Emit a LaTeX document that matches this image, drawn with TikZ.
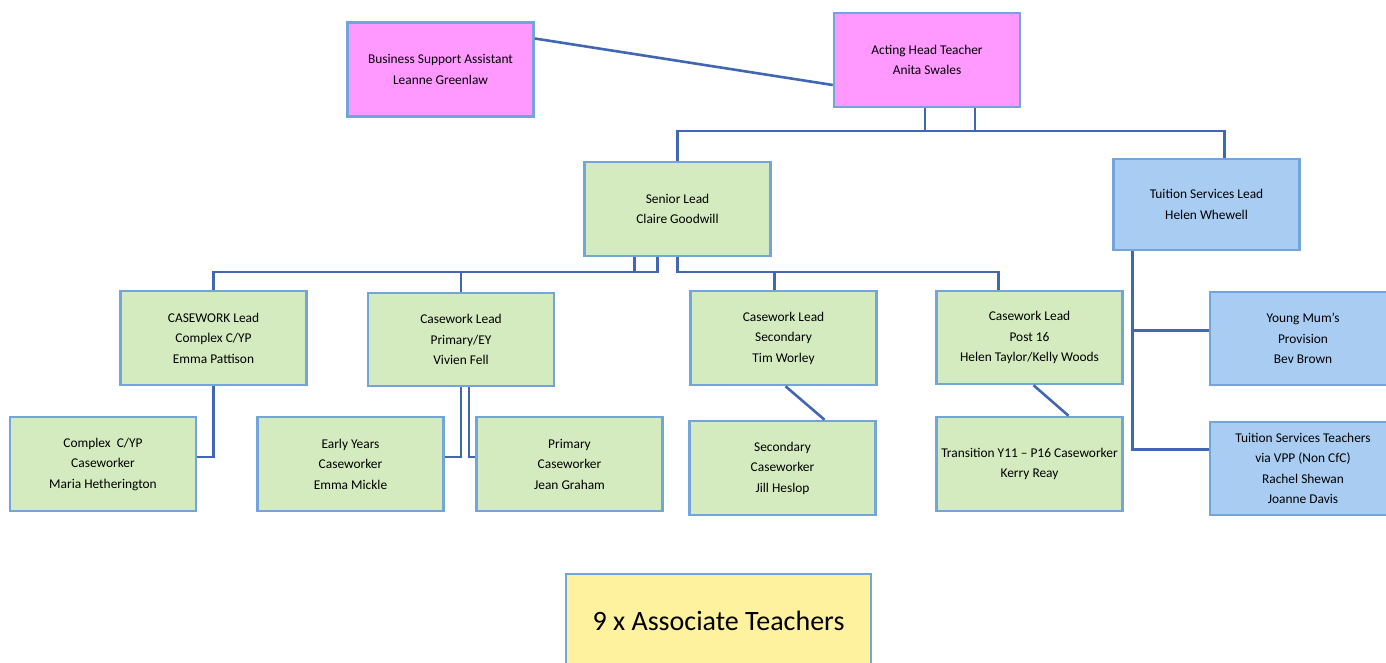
\documentclass[tikz,border=0pt]{standalone}
\usepackage{fontspec}
\setmainfont{Carlito}
\usetikzlibrary{shadows}

\definecolor{rosa}{RGB}{255,153,255}
\definecolor{hellgruen}{RGB}{212,235,192}
\definecolor{hellblau}{RGB}{169,205,242}
\definecolor{gelb}{RGB}{255,242,159}
\definecolor{rahmen}{RGB}{115,165,220}
\definecolor{linie}{RGB}{66,103,178}

\tikzset{
  box/.style={draw=rahmen, line width=2.5pt, minimum width=186pt, minimum height=94pt,
    inner sep=0pt, align=center, font=\fontsize{13.4}{20.5}\selectfont,
    drop shadow={shadow xshift=1.3pt, shadow yshift=-1.3pt, fill=black!75, opacity=1}},
  pinkbox/.style={box, fill=rosa},
  greenbox/.style={box, fill=hellgruen},
  bluebox/.style={box, fill=hellblau},
  conn/.style={draw=linie, line width=2.6pt},
}

\begin{document}
\begin{tikzpicture}[x=1pt, y=-1pt]
    \useasboundingbox (0,0) rectangle (1386,663);

    % Leitung
    \node[pinkbox] (bsa) at (440.5,69.5) {Business Support Assistant\\Leanne Greenlaw};
    \node[pinkbox] (aht) at (927,60) {Acting Head Teacher\\Anita Swales};

    % zweite Ebene
    \node[greenbox] (sl) at (677.5,209) {Senior Lead\\Claire Goodwill};
    \node[bluebox, minimum height=91pt] (tl) at (1206.5,204.5) {Tuition Services Lead\\Helen Whewell};

    % Casework Leads
    \node[greenbox] (cw1) at (213.5,338) {CASEWORK Lead\\Complex C/YP\\Emma Pattison};
    \node[greenbox, minimum height=93pt] (cw2) at (461,339.5) {Casework Lead\\Primary/EY\\Vivien Fell};
    \node[greenbox] (cw3) at (783.5,338) {Casework Lead\\Secondary\\Tim Worley};
    \node[greenbox, minimum height=93pt] (cw4) at (1029.5,337.5) {Casework Lead\\Post 16\\Helen Taylor/Kelly Woods};
    \node[bluebox, minimum height=93pt] (ym) at (1303,338.5) {Young Mum’s\\Provision\\Bev Brown};

    % Caseworker
    \node[greenbox] (cx) at (103,464) {Complex\ \ C/YP\\Caseworker\\Maria Hetherington};
    \node[greenbox] (ey) at (350.5,464) {Early Years\\Caseworker\\Emma Mickle};
    \node[greenbox] (pr) at (569.5,464) {Primary\\Caseworker\\Jean Graham};
    \node[greenbox] (sc) at (782.5,468) {Secondary\\Caseworker\\Jill Heslop};
    \node[greenbox] (tr) at (1029.5,464) {Transition Y11 – P16 Caseworker\\Kerry Reay};
    \node[bluebox, minimum height=93pt] (tt) at (1303,468.5) {Tuition Services Teachers\\via VPP (Non CfC)\\Rachel Shewan\\Joanne Davis};

    % Associate Teachers
    \node[box, fill=gelb, minimum width=305pt, font=\fontsize{28}{34}\selectfont] (at9) at (718.5,621) {9 x Associate Teachers};

    % Hilfslinien
    \coordinate (hbus) at (0,131);
    \coordinate (sbus) at (0,272);

    % Verbindungen oben
    \draw[conn] ([yshift=31pt]bsa.east) -- ([yshift=-25pt]aht.west);
    \draw[conn] (sl.north) -- (sl.north |- hbus) -- ([xshift=18pt]tl.north |- hbus) -- ([xshift=18pt]tl.north);
    \draw[conn] ([xshift=-2pt]aht.south) -- ([xshift=-2pt]aht.south |- hbus);
    \draw[conn] ([xshift=48pt]aht.south) -- ([xshift=48pt]aht.south |- hbus);

    % Senior Lead -> Casework Leads
    \draw[conn] (cw1.north) -- (cw1.north |- sbus) -- ([xshift=-20pt]sl.south |- sbus) -- ([xshift=-20pt]sl.south);
    \draw[conn] ([xshift=-43pt]sl.south) -- ([xshift=-43pt]sl.south |- sbus);
    \draw[conn] (cw2.north) -- (cw2.north |- sbus);
    \draw[conn] (sl.south) -- (sl.south |- sbus) -- ([xshift=-31pt]cw4.north |- sbus) -- ([xshift=-31pt]cw4.north);
    \draw[conn] ([xshift=-9pt]cw3.north) -- ([xshift=-9pt]cw3.north |- sbus);

    % Tuition Services
    \draw[conn] ([xshift=-74pt]tl.south) |- ([yshift=19pt]tt.west);
    \draw[conn] ([xshift=-74pt]tl.south |- ym.west) ++(0,-8) -- ([yshift=8pt]ym.west);

    % Casework Leads -> Caseworker
    \draw[conn] (cw1.south) |- ([yshift=7pt]cx.east);
    \draw[conn] (cw2.south) |- ([yshift=7pt]ey.east);
    \draw[conn] ([xshift=8pt]cw2.south) |- ([yshift=7pt]pr.west);
    \draw[conn] ([xshift=2pt]cw3.south) -- ([xshift=42pt]sc.north);
    \draw[conn] ([xshift=4pt]cw4.south) -- ([xshift=39pt]tr.north);
\end{tikzpicture}
\end{document}
